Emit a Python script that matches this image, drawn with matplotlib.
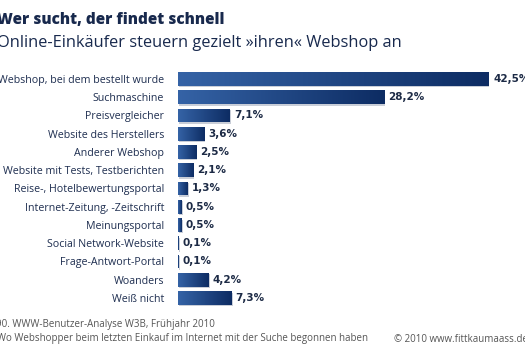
import matplotlib.pyplot as plt
import numpy as np
from matplotlib.colors import LinearSegmentedColormap

categories = ["Webshop, bei dem bestellt wurde", "Suchmaschine", "Preisvergleicher",
              "Website des Herstellers", "Anderer Webshop",
              "Website mit Tests, Testberichten", "Reise-, Hotelbewertungsportal",
              "Internet-Zeitung, -Zeitschrift", "Meinungsportal",
              "Social Network-Website", "Frage-Antwort-Portal", "Woanders", "Weiß nicht"]
values = [42.5, 28.2, 7.1, 3.6, 2.5, 2.1, 1.3, 0.5, 0.5, 0.1, 0.1, 4.2, 7.3]
labels = ["42,5%", "28,2%", "7,1%", "3,6%", "2,5%", "2,1%", "1,3%", "0,5%", "0,5%",
          "0,1%", "0,1%", "4,2%", "7,3%"]

W, H = 525, 350
fig = plt.figure(figsize=(W / 100, H / 100), dpi=100)
ax = fig.add_axes([178 / W, 42.9 / H, 311 / W, 237.25 / H])

y = np.arange(len(values))
bh = 0.76
# soft shadow
ax.barh(y + 0.08, values, height=bh, left=0.15, color="#c9ced8", zorder=1)
bars = ax.barh(y, values, height=bh, color="#173a74", zorder=2)

# horizontal gradient in each bar (light blue left -> dark navy right)
grad = np.linspace(0, 1, 256).reshape(1, -1)
cmap = LinearSegmentedColormap.from_list("g", ["#3563a6", "#0d2c63"])
for b in bars:
    x0, y0 = b.get_x(), b.get_y()
    w, h = b.get_width(), b.get_height()
    if w <= 0:
        continue
    im = ax.imshow(grad, extent=[x0, x0 + w, y0 + h, y0], aspect="auto",
                   cmap=cmap, zorder=3)
    im.set_clip_path(b)

for yi, v, t in zip(y, values, labels):
    ax.annotate(t, (v, yi), xytext=(3, 0), textcoords="offset points",
                ha="left", va="center", fontsize=7.5, fontweight="bold",
                color="#1c2a45", family="DejaVu Sans", annotation_clip=False)

ax.set_xlim(0, 42.5)
ax.set_ylim(len(values) - 0.5, -0.5)
ax.set_yticks(y)
ax.set_yticklabels(categories, fontsize=7.7, color="#1e2e50", family="Open Sans")
ax.tick_params(axis="y", length=0, pad=10)
ax.set_xticks([])
for s in ax.spines.values():
    s.set_visible(False)

fig.text(-3 / W, 1 - 20 / H, "Wer sucht, der findet schnell", fontsize=11,
         fontweight="heavy", color="#18294d", va="center", family="Open Sans")
fig.text(-3 / W, 1 - 43 / H, "Online-Einkäufer steuern gezielt »ihren« Webshop an",
         fontsize=11.8, color="#18294d", va="center", family="Open Sans")

fig.text(-4 / W, 1 - 324 / H, "90. WWW-Benutzer-Analyse W3B, Frühjahr 2010",
         fontsize=7.0, color="#555555", va="center", family="Open Sans")
fig.text(-3 / W, 1 - 339 / H,
         "Wo Webshopper beim letzten Einkauf im Internet mit der Suche begonnen haben",
         fontsize=7.0, color="#555555", va="center", family="Open Sans")
fig.text(528 / W, 1 - 339 / H, "© 2010 www.fittkaumaass.de", ha="right",
         fontsize=7.0, color="#555555", va="center", family="Open Sans")

fig.savefig("out.png", dpi=100)
